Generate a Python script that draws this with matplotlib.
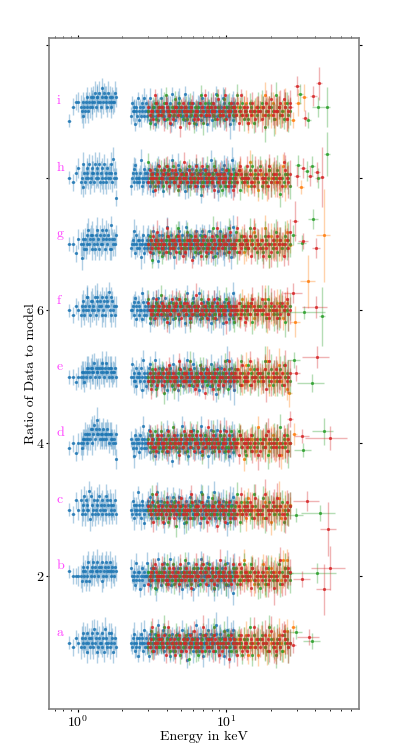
import matplotlib
matplotlib.use("Agg")
import matplotlib.pyplot as plt
import numpy as np

plt.rcParams["font.family"] = "serif"
plt.rcParams["font.serif"] = ["cmr10", "DejaVu Serif"]
plt.rcParams["mathtext.fontset"] = "cm"
plt.rcParams["axes.formatter.use_mathtext"] = True

panels = list("abcdefghi")
offsets = [1, 2, 3, 4, 5, 6, 7, 8, 9]

# residual digit strings, one per panel (a..i); value = offset + (digit - 4) * step
pn_soft_res = [
    "4354" "3546354264535463745263544635274534636452453",
    "5444" "4356453647354657465574656374564756575465465",
    "4364" "6354736454827354634563745364543765364535463",
    "3424" "4354565465657476857696756657565676465654546",
    "4434" "4545354656546565746556465765465756465645564",
    "4354" "3546354774536465473674565374637565847364535",
    "4425" "4154353647456365436475364745637546538354546",
    "4356" "3427534564734565374654735463745364545738454",
    "2566" "5463546574657657685776865796876758676576687",
]
pn_soft_low_e = [0.87, 0.93, 0.97, 1.01]
pn_soft_low_xerr = [0.03, 0.025, 0.02, 0.02]
pn_soft_err = "2334554545 4545454565 4545645455 4545454545 4545454545"

pn_hard_res = [
    "4354623451 3546452743 5434165345 4263548354 3454726435 5341456234 4536435427 2455340564 4365243548 3542654314 4456375246 5344286435 3645414537 4253645734",
    "6434527345 3514364254 4745332645 5436148354 2453675434 4358243465 4354623451 3546452743 5434165345 4263548354 3454726435 5341456234 4536435427 2455340564",
    "4365243548 3542654314 4456375246 5344286435 3645414537 4253645734 6434527345 3514364254 4745332645 5436148354 2453675434 4358243465 4354623451 3546452743",
    "5434165345 4263548354 3454726435 5341456234 4536435427 2455340564 4365243548 3542654314 4456375246 5344286435 3645414537 4253645734 6434527345 3514364254",
    "4745332645 5436148354 2453675434 4358243465 4354623451 3546452743 5434165345 4263548354 3454726435 5341456234 4536435427 2455340564 4365243548 3542654314",
    "4456375246 5344286435 3645414537 4253645734 6434527345 3514364254 4745332645 5436148354 2453675434 4358243465 4354623451 3546452743 5434165345 4263548354",
    "3454726435 5341456234 4536435427 2455340564 4365243548 3542654314 4456375246 5344286435 3645414537 4253645734 6434527345 3514364254 4745332645 5436148354",
    "2453675434 4358243465 4354623451 3546452743 5434165345 4263548354 3454726435 5341456234 4536435427 2455340564 4365243548 3542654314 4456375246 5344286435",
    "3645414537 4253645734 6434527345 3514364254 4745332645 5436148354 2453675434 4358243465 4354623451 3546452743 5434165345 4263548354 3454726435 5341456234",
]
pn_hard_err = ("3243524332 4235324423 3524234352 4323542343 2435243324 5342332452 3423543234 "
               "2353423534 4233524332 3542343253 4324352434 4535463546 5463546456 6547565476")

fpma_res = [
    "3472546453 4538453624 4326541435 4650435542 4134562453 5346824435 4375463524 4524634153 4538416345 5643428534 1543264534",
    "5435614345 5346274543 7245346354 8453425634 6425736544 7354146354 5437254346 5462335474 4345763542 1543264534 3472546453",
    "4538453624 4326541435 4650435542 4134562453 5346824435 4375463524 4524634153 4538416345 5643428534 3472546453 5435614345",
    "5346274543 7245346354 8453425634 6425736544 7354146354 5437254346 5462335474 4345763542 1543264534 5435614345 4538453624",
    "4326541435 4650435542 4134562453 5346824435 4375463524 4524634153 4538416345 5643428534 3472546453 4538453624 5346274543",
    "7245346354 8453425634 6425736544 7354146354 5437254346 5462335474 4345763542 1543264534 5435614345 5346274543 4326541435",
    "4650435542 4134562453 5346824435 4375463524 4524634153 4538416345 5643428534 3472546453 4538453624 4326541435 7245346354",
    "8453425634 6425736544 7354146354 5437254346 5462335474 4345763542 1543264534 5435614345 5346274543 7245346354 4650435542",
    "4134562453 5346824435 4375463524 4524634153 4538416345 5643428534 3472546453 4538453624 4326541435 4650435542 8453425634",
]

fpmb_res = [
    "4358243465 5436148354 3514364254 4253645734 5344286435 3542654314 2455340564 5341456234 4263548354 3546452743 2453675434",
    "2453675434 4745332645 6434527345 3645414537 4456375246 4365243548 4536435427 3454726435 5434165345 4354623451 4358243465",
    "5436148354 3514364254 4253645734 5344286435 3542654314 2455340564 5341456234 4263548354 3546452743 4358243465 4745332645",
    "4745332645 6434527345 3645414537 4456375246 4365243548 4536435427 3454726435 5434165345 4354623451 2453675434 3514364254",
    "3514364254 4253645734 5344286435 3542654314 2455340564 5341456234 4263548354 3546452743 4358243465 5436148354 6434527345",
    "6434527345 3645414537 4456375246 4365243548 4536435427 3454726435 5434165345 4354623451 2453675434 4745332645 4253645734",
    "4253645734 5344286435 3542654314 2455340564 5341456234 4263548354 3546452743 4358243465 5436148354 3514364254 3645414537",
    "3645414537 4456375246 4365243548 4536435427 3454726435 5434165345 4354623451 2453675434 4745332645 6434527345 5344286435",
    "5344286435 3542654314 2455340564 5341456234 4263548354 3546452743 4358243465 5436148354 3514364254 4253645734 4456375246",
]
nustar_err = ("3243423532 4325342343 2435234324 3542433425 4234352343 3425342435 2343524324 "
              "4325342453 34243 5465746576 6574867565 47586")

other_res = [
    "5435614345 1543264534 64257",
    "4538453624 3472546453 53468",
    "5346274543 4326541435 72453",
    "4650435542 8453425634 41345",
    "6425736544 5346824435 73541",
    "4375463524 5437254346 45246",
    "5462335474 4538416345 43457",
    "5643428534 1543264534 34725",
    "5435614345 4538453624 53462",
]
other_err = "4545645654 5646756576 86575"

# sparse high-energy bins: (panel, energy, ratio, xerr, yerr)
fpmb_hi = [
    ("i", 30.2, 9.38, 1.5, 0.15), ("i", 34.2, 8.90, 1.7, 0.12), ("i", 38.9, 9.23, 2.0, 0.15),
    ("i", 42.4, 9.42, 2.0, 0.25), ("i", 27.0, 9.06, 1.2, 0.15),
    ("h", 30.2, 8.02, 1.4, 0.15), ("h", 33.0, 8.15, 1.5, 0.15), ("h", 36.9, 8.02, 1.8, 0.15),
    ("h", 41.0, 8.08, 2.0, 0.15), ("h", 44.2, 8.01, 2.0, 0.45),
    ("g", 29.2, 7.35, 1.4, 0.3), ("g", 40.5, 6.94, 2.5, 0.15), ("g", 33.2, 7.04, 2.5, 0.12),
    ("f", 28.5, 6.26, 4.3, 0.15), ("f", 40.3, 6.05, 7.5, 0.17),
    ("e", 41.0, 5.30, 8.4, 0.17), ("e", 29.5, 5.06, 2.0, 0.12),
    ("d", 27.0, 4.37, 1.3, 0.12), ("d", 32.5, 4.11, 3.7, 0.11), ("d", 50.0, 4.08, 16.0, 0.18),
    ("c", 35.4, 3.13, 7.2, 0.15), ("c", 49.0, 2.71, 6.0, 0.4),
    ("b", 50.3, 2.12, 13.0, 0.33), ("b", 45.5, 1.80, 5.2, 0.38), ("b", 32.5, 1.95, 4.3, 0.12),
    ("a", 36.3, 1.08, 6.1, 0.12), ("a", 28.2, 0.96, 1.5, 0.12),
]
fpma_hi = [
    ("i", 31.6, 9.26, 1.5, 0.15), ("i", 36.0, 8.87, 1.7, 0.12), ("i", 42.0, 9.07, 4.2, 0.15),
    ("i", 48.0, 9.06, 2.5, 0.3),
    ("h", 30.7, 8.19, 1.5, 0.15), ("h", 35.0, 8.10, 1.6, 0.15), ("h", 37.9, 8.17, 1.8, 0.15),
    ("h", 42.0, 7.99, 2.0, 0.15), ("h", 48.0, 8.35, 2.5, 0.33),
    ("g", 38.8, 7.38, 3.2, 0.15), ("g", 32.5, 7.01, 2.2, 0.12), ("g", 28.5, 7.13, 1.2, 0.15),
    ("f", 33.8, 5.97, 13.0, 0.1), ("f", 44.5, 5.91, 2.0, 0.45),
    ("e", 28.8, 5.26, 2.8, 0.12), ("e", 38.0, 4.91, 7.8, 0.14),
    ("d", 33.3, 3.90, 4.4, 0.1), ("d", 45.5, 4.18, 7.6, 0.2),
    ("c", 43.0, 2.95, 11.0, 0.12), ("c", 29.6, 2.92, 3.4, 0.1),
    ("b", 41.0, 2.05, 14.0, 0.15), ("b", 27.0, 2.04, 1.5, 0.12),
    ("a", 29.6, 1.16, 2.9, 0.1), ("a", 38.3, 1.03, 5.1, 0.12),
]
other_hi = [
    ("i", 28.2, 8.87, 1.2, 0.12), ("i", 30.7, 9.13, 1.5, 0.2), ("i", 33.8, 9.21, 1.5, 0.2),
    ("h", 32.2, 7.86, 1.5, 0.1),
    ("g", 45.5, 7.13, 5.2, 0.7), ("g", 27.0, 6.98, 1.2, 0.12),
    ("f", 35.7, 6.44, 4.1, 0.4), ("f", 29.2, 5.83, 2.3, 0.23),
    ("e", 26.7, 4.75, 1.0, 0.2),
    ("d", 28.9, 4.14, 1.2, 0.16), ("d", 26.7, 4.00, 1.0, 0.12),
    ("c", 27.0, 3.07, 1.0, 0.12),
    ("b", 24.2, 2.24, 1.0, 0.15),
    ("a", 28.5, 1.24, 1.2, 0.1),
]
pn_extra = [("h", 1.80, 7.70, 0.02, 0.12), ("d", 1.80, 3.76, 0.02, 0.15)]

C_PN, C_OTHER, C_FPMA, C_FPMB = "#1f77b4", "#ff7f0e", "#2ca02c", "#d62728"


def digits(s):
    return np.array([int(c) for c in "".join(s.split())], dtype=float)


def decode(s, base, step):
    return base + (digits(s) - 4) * step


def errs(code, n):
    return 0.05 + digits(code)[:n] * 0.025


def draw(ax, e, r, xe, ye, color, z):
    ax.errorbar(e, r, xerr=xe, yerr=ye, fmt="none", ecolor=color,
                elinewidth=1.0, alpha=0.35, zorder=z)
    ax.plot(e, r, "o", ms=2.3, color=color, mec="none", alpha=0.85, zorder=z + 0.5)


def draw_sparse(ax, rows, color, z):
    for p, e, r, xe, ye in rows:
        draw(ax, [e], [r], [xe], [ye], color, z)


fig = plt.figure(figsize=(3.99, 7.47), dpi=100)
ax = fig.add_axes([0.1228, 0.0509, 0.777, 0.898])

for i, off in enumerate(offsets):
    # pn soft band
    r = decode(pn_soft_res[i], off, 0.07)
    nlo = len(pn_soft_low_e)
    e = np.concatenate([pn_soft_low_e, np.geomspace(1.05, 1.80, len(r) - nlo)])
    xe = np.concatenate([pn_soft_low_xerr, e[nlo:] * 0.006])
    draw(ax, e, r, xe, errs(pn_soft_err, len(r)), C_PN, 1)
    # pn hard band
    r = decode(pn_hard_res[i], off, 0.065)
    e = np.concatenate([np.geomspace(2.3, 8.0, 110, endpoint=False),
                        np.geomspace(8.0, 11.5, len(r) - 110)])
    draw(ax, e, r, e * 0.005, errs(pn_hard_err, len(r)), C_PN, 1)
    # third instrument
    r = decode(other_res[i], off, 0.06)
    e = np.geomspace(12.0, 26.0, len(r))
    draw(ax, e, r, e * 0.01, errs(other_err, len(r)), C_OTHER, 2)
    # FPMA / FPMB
    for res, col, z in ((fpma_res, C_FPMA, 3), (fpmb_res, C_FPMB, 4)):
        r = decode(res[i], off, 0.06)
        e = np.concatenate([np.geomspace(3.0, 15.0, 85, endpoint=False),
                            np.geomspace(15.0, 27.0, len(r) - 85)])
        draw(ax, e, r, e * 0.006, errs(nustar_err, len(r)), col, z)

    ax.text(0.72, off + 0.15, panels[i], color="#ff44ff", fontsize=10, va="center", ha="left")

draw_sparse(ax, pn_extra, C_PN, 1)
draw_sparse(ax, other_hi, C_OTHER, 2)
draw_sparse(ax, fpma_hi, C_FPMA, 3)
draw_sparse(ax, fpmb_hi, C_FPMB, 4)

ax.set_xscale("log")
ax.set_xlim(0.64, 79)
ax.set_ylim(0, 10.1)
ax.set_yticks([2, 4, 6, 8, 10])
ax.set_yticklabels(["2", "4", "6", "", ""])
ax.tick_params(which="both", direction="out", top=True, right=True, labelsize=10, pad=1.5)
ax.tick_params(which="major", length=2.5)
ax.tick_params(which="minor", length=1.5)
for s in ax.spines.values():
    s.set_color("#808080")
    s.set_linewidth(1.2)
ax.set_xlabel("Energy in keV", fontsize=10)
ax.set_ylabel("Ratio of Data to model", fontsize=10)
ax.xaxis.set_label_coords(0.5, -0.033)
ax.yaxis.set_label_coords(-0.04, 0.5)

fig.savefig("out.png", dpi=100)
